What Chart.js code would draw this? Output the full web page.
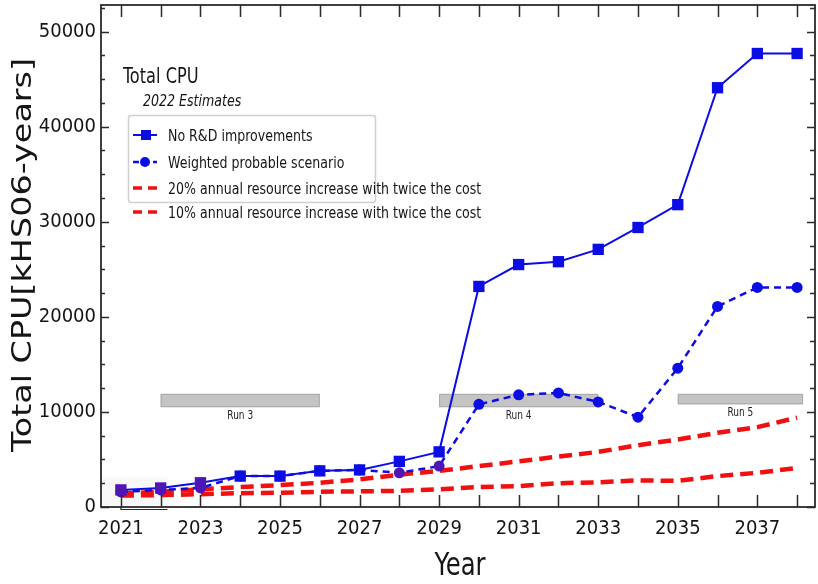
<!DOCTYPE html>
<html>
<head>
<meta charset="utf-8">
<title>Total CPU</title>
<script src="https://cdn.jsdelivr.net/npm/chart.js@4.4.1/dist/chart.umd.min.js"></script>
<style>
  html, body { margin: 0; padding: 0; background: #ffffff; }
  #wrap { width: 818px; height: 584px; }
</style>
</head>
<body>
<div id="wrap"><canvas id="cpu" width="818" height="584"></canvas></div>
<script>
// Years of the projection
const years = [2021, 2022, 2023, 2024, 2025, 2026, 2027, 2028, 2029,
               2030, 2031, 2032, 2033, 2034, 2035, 2036, 2037, 2038];

// Total CPU need, kHS06-years
const noRnD    = [1800, 2000, 2550, 3250, 3250, 3800, 3900, 4800, 5800,
                  23200, 25500, 25800, 27100, 29400, 31800, 44100, 47700, 47700];
const weighted = [1600, 1800, 2000, 3250, 3250, 3800, 3900, 3600, 4300,
                  10800, 11800, 12000, 11050, 9450, 14600, 21100, 23100, 23100];

// Affordable capacity with growing budgets
const cost20 = [1400, 1600, 1850, 2100, 2300, 2550, 2900, 3400, 3800,
                4300, 4800, 5300, 5800, 6500, 7100, 7800, 8400, 9400];
const cost10 = [1200, 1250, 1350, 1450, 1500, 1600, 1650, 1700, 1850,
                2100, 2200, 2500, 2600, 2800, 2750, 3250, 3600, 4100];

// LHC run periods shown as bars
const runNames = ['Run 3', 'Run 4', 'Run 5'];
const runStart = [2022, 2029, 2035];
const runEnd   = [2026, 2033, 2038.15];
const runLow   = [10500, 10500, 10800];
const runHigh  = [11900, 11900, 11900];

// Axis ticks
const xLabelYears = [2021, 2023, 2025, 2027, 2029, 2031, 2033, 2035, 2037];
const yMajor = [0, 10000, 20000, 30000, 40000, 50000];
const yMinorStep = 2500;

const seriesLabels = [
  'No R&D improvements',
  'Weighted probable scenario',
  '20% annual resource increase with twice the cost',
  '10% annual resource increase with twice the cost'
];

const BLUE = 'rgb(12,12,228)';
const PURPLE = 'rgb(78,22,182)';
const RED = 'rgb(240,16,16)';
const INK = '#151515';
const COND = '"DejaVu Sans Condensed", "DejaVu Sans", sans-serif';

const pts = vals => vals.map((v, i) => ({ x: years[i], y: v }));

// text drawn slightly taller than wide
function tallText(ctx, text, x, y, font, sy) {
  ctx.save();
  ctx.font = font;
  ctx.translate(x, y);
  ctx.scale(1, sy);
  ctx.fillText(text, 0, 0);
  ctx.restore();
}

// Extra drawing: run bars, inward tick marks, frame, legend, axis titles
const decor = {
  id: 'decor',
  beforeDatasetsDraw(chart) {
    const { ctx, chartArea: a, scales: { x, y } } = chart;
    ctx.save();
    // faint band at the lower left
    ctx.fillStyle = 'rgba(0,0,0,0.028)';
    ctx.fillRect(a.left, y.getPixelForValue(3100), x.getPixelForValue(2022.2) - a.left,
                 y.getPixelForValue(200) - y.getPixelForValue(3100));
    // run periods
    runNames.forEach((name, i) => {
      const x0 = x.getPixelForValue(runStart[i]);
      const x1 = x.getPixelForValue(runEnd[i]);
      const y0 = y.getPixelForValue(runHigh[i]);
      const y1 = y.getPixelForValue(runLow[i]);
      ctx.fillStyle = '#c4c4c4';
      ctx.strokeStyle = '#a9a9a9';
      ctx.lineWidth = 1;
      ctx.fillRect(x0, y0, x1 - x0, y1 - y0);
      ctx.strokeRect(x0 + 0.5, y0 + 0.5, x1 - x0 - 1, y1 - y0 - 1);
      ctx.fillStyle = '#222';
      ctx.textAlign = 'center';
      ctx.textBaseline = 'alphabetic';
      tallText(ctx, name, (x0 + x1) / 2, y1 + 12, '10px ' + COND, 1.15);
    });
    ctx.restore();
  },
  afterDatasetsDraw(chart) {
    const { ctx, chartArea: a, scales: { x, y } } = chart;
    ctx.save();
    ctx.strokeStyle = '#2a2a2a';
    ctx.lineWidth = 1.5;
    ctx.beginPath();
    // year ticks, bottom and top, pointing inward
    years.forEach(yr => {
      const px = Math.round(x.getPixelForValue(yr)) + 0.5;
      ctx.moveTo(px, a.bottom); ctx.lineTo(px, a.bottom - 12);
      ctx.moveTo(px, a.top); ctx.lineTo(px, a.top + 12);
    });
    // value ticks, left and right
    for (let v = 0; v <= y.max; v += yMinorStep) {
      const py = Math.round(y.getPixelForValue(v)) + 0.5;
      const major = v % 10000 === 0;
      ctx.moveTo(a.left, py); ctx.lineTo(a.left + (major ? 8 : 4), py);
      ctx.moveTo(a.right, py); ctx.lineTo(a.right - (major ? 8 : 5), py);
    }
    ctx.stroke();
    // frame
    ctx.lineWidth = 1.8;
    ctx.strokeRect(a.left, a.top, a.right - a.left, a.bottom - a.top);
    // small box under the first years
    ctx.lineWidth = 1.2;
    ctx.beginPath();
    const bx0 = x.getPixelForValue(2021), bx1 = x.getPixelForValue(2022.17);
    ctx.moveTo(bx0, a.bottom); ctx.lineTo(bx0, a.bottom + 2.5);
    ctx.lineTo(bx1, a.bottom + 2.5);
    ctx.stroke();
    ctx.restore();
  },
  afterDraw(chart) {
    const { ctx } = chart;
    ctx.save();
    ctx.fillStyle = INK;
    // y axis title, stretched along its length
    ctx.save();
    ctx.font = '26px "DejaVu Sans", sans-serif';
    const yt = 'Total CPU[kHS06-years]';
    const w = ctx.measureText(yt).width;
    ctx.translate(31, 255);
    ctx.rotate(-Math.PI / 2);
    ctx.scale(394 / w, 1.05);
    ctx.textAlign = 'center';
    ctx.textBaseline = 'alphabetic';
    ctx.fillText(yt, 0, 0);
    ctx.restore();
    // x axis title
    ctx.textAlign = 'center';
    ctx.textBaseline = 'alphabetic';
    tallText(ctx, 'Year', 460, 575, '27px ' + COND, 1.2);

    // legend block
    ctx.textAlign = 'left';
    tallText(ctx, 'Total CPU', 123, 83, '18px ' + COND, 1.15);
    tallText(ctx, '2022 Estimates', 143, 106, 'italic 14px ' + COND, 1.15);

    ctx.fillStyle = '#ffffff';
    ctx.strokeStyle = '#d0d0d0';
    ctx.lineWidth = 1.5;
    ctx.beginPath();
    ctx.roundRect(128.5, 115.5, 247, 87, 3);
    ctx.fill();
    ctx.stroke();

    const rows = [135, 162, 188, 212];
    const sx0 = 133, sx1 = 157;
    rows.forEach((ry, i) => {
      ctx.save();
      if (i === 0) {
        ctx.strokeStyle = BLUE; ctx.lineWidth = 2;
        ctx.beginPath(); ctx.moveTo(sx0, ry); ctx.lineTo(sx1, ry); ctx.stroke();
        ctx.fillStyle = BLUE; ctx.fillRect(141, ry - 5, 10, 10);
      } else if (i === 1) {
        ctx.strokeStyle = BLUE; ctx.lineWidth = 2.5; ctx.setLineDash([6, 4]);
        ctx.beginPath(); ctx.moveTo(sx0, ry); ctx.lineTo(sx1, ry); ctx.stroke();
        ctx.fillStyle = BLUE; ctx.beginPath(); ctx.arc(145, ry, 5, 0, Math.PI * 2); ctx.fill();
      } else {
        ctx.strokeStyle = RED; ctx.lineWidth = 3.5; ctx.setLineDash([9, 6]);
        ctx.beginPath(); ctx.moveTo(sx0, ry); ctx.lineTo(sx1, ry); ctx.stroke();
      }
      ctx.restore();
      ctx.fillStyle = INK;
      ctx.textBaseline = 'alphabetic';
      tallText(ctx, seriesLabels[i], 168, ry + 6, '14px ' + COND, 1.15);
    });
    ctx.restore();
  }
};

new Chart(document.getElementById('cpu'), {
  type: 'line',
  data: {
    datasets: [
      {
        label: seriesLabels[0],
        data: pts(noRnD),
        borderColor: BLUE,
        borderWidth: 2,
        pointStyle: 'rect',
        pointRadius: 8,
        pointBorderWidth: 0,
        pointBackgroundColor: c => (c.raw && c.raw.y < 3000 ? PURPLE : BLUE),
        tension: 0
      },
      {
        label: seriesLabels[1],
        data: pts(weighted),
        borderColor: BLUE,
        borderWidth: 2.5,
        borderDash: [7, 5],
        pointStyle: 'circle',
        pointRadius: 5.5,
        pointBorderWidth: 0,
        pointBackgroundColor: c => (c.raw && c.raw.y < 5000 ? PURPLE : BLUE),
        tension: 0
      },
      {
        label: seriesLabels[2],
        data: pts(cost20),
        borderColor: RED,
        borderWidth: 4.5,
        borderDash: [13, 7],
        pointRadius: 0,
        tension: 0
      },
      {
        label: seriesLabels[3],
        data: pts(cost10),
        borderColor: RED,
        borderWidth: 4.5,
        borderDash: [13, 7],
        pointRadius: 0,
        tension: 0
      }
    ]
  },
  options: {
    responsive: false,
    animation: false,
    devicePixelRatio: 1,
    layout: { autoPadding: false, padding: { top: 5, right: 3, left: 0, bottom: 0 } },
    plugins: { legend: { display: false }, tooltip: { enabled: false } },
    scales: {
      x: {
        type: 'linear',
        min: 2020.5,
        max: 2038.45,
        grid: { display: false, drawTicks: false },
        border: { display: false },
        afterBuildTicks: s => { s.ticks = xLabelYears.map(v => ({ value: v })); },
        afterFit: s => { s.height = 77; s.paddingLeft = 0; s.paddingRight = 0; },
        ticks: {
          autoSkip: false,
          maxRotation: 0,
          padding: 10,
          color: INK,
          font: { family: COND, size: 20 },
          callback: v => String(v)
        }
      },
      y: {
        type: 'linear',
        min: 0,
        max: 52800,
        grid: { display: false, drawTicks: false },
        border: { display: false },
        afterBuildTicks: s => { s.ticks = yMajor.map(v => ({ value: v })); },
        afterFit: s => { s.width = 101; s.paddingTop = 0; s.paddingBottom = 0; },
        ticks: {
          padding: 5,
          color: INK,
          font: { family: COND, size: 20 },
          callback: v => String(v)
        }
      }
    }
  },
  plugins: [decor]
});
</script>
</body>
</html>
